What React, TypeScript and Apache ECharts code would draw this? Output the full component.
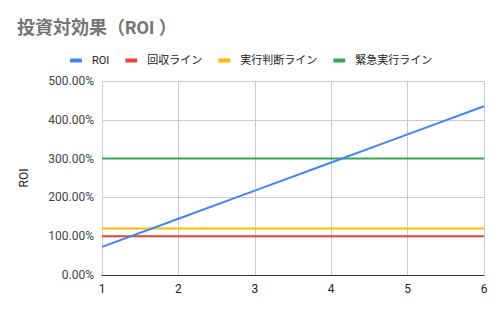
import React, { useEffect, useRef } from "react";
import * as echarts from "echarts";

const xCategories = [1, 2, 3, 4, 5, 6];
const roiValues = [72.5, 145, 217.5, 290, 362.5, 435];
const recoveryLine = [100, 100, 100, 100, 100, 100];
const decisionLine = [120, 120, 120, 120, 120, 120];
const urgentLine = [300, 300, 300, 300, 300, 300];
const seriesNames = ["ROI", "回収ライン", "実行判断ライン", "緊急実行ライン"];
const colors = ["#4285f4", "#ea4335", "#fbbc04", "#34a853"];

export default function App() {
  const ref = useRef<HTMLDivElement>(null);
  useEffect(() => {
    if (!ref.current) return;
    const chart = echarts.init(ref.current, undefined, { renderer: "svg" });
    const dataSets = [roiValues, recoveryLine, decisionLine, urgentLine];
    chart.setOption({
      animation: false,
      textStyle: { fontFamily: "Roboto, 'Noto Sans CJK JP', sans-serif" },
      title: {
        text: "投資対効果（ROI ）",
        left: 12,
        top: 13,
        textStyle: { color: "#757575", fontSize: 18, fontWeight: "bold", fontFamily: "Roboto, 'Noto Sans CJK JP', sans-serif" },
      },
      legend: {
        top: 50,
        left: 65,
        itemWidth: 12,
        itemHeight: 4,
        itemGap: 16,
        icon: "roundRect",
        textStyle: { color: "#222", fontSize: 11, padding: [0, 0, 0, 5] },
        data: seriesNames,
      },
      grid: { left: 102, right: 16, top: 81, bottom: 36 },
      xAxis: {
        type: "value",
        min: 1,
        max: 6,
        interval: 1,
        axisLine: { show: true, lineStyle: { color: "#333" } },
        axisTick: { show: false },
        axisLabel: { color: "#222", fontSize: 12, margin: 8 },
        splitLine: { show: true, lineStyle: { color: "#ccc" } },
      },
      yAxis: {
        type: "value",
        min: 0,
        max: 500,
        interval: 100,
        name: "ROI",
        nameLocation: "middle",
        nameGap: 72,
        nameTextStyle: { color: "#222", fontSize: 12 },
        axisLine: { show: false },
        axisTick: { show: false },
        axisLabel: { color: "#444", fontSize: 12, formatter: (v: number) => v.toFixed(2) + "%" },
        splitLine: { show: true, lineStyle: { color: "#ccc" } },
      },
      series: seriesNames.map((name, i) => ({
        name,
        type: "line",
        data: xCategories.map((x, j) => [x, dataSets[i][j]]),
        showSymbol: false,
        symbol: "none",
        lineStyle: { color: colors[i], width: 2 },
        itemStyle: { color: colors[i] },
        z: i === 0 ? 5 : 3,
      })),
    });
    return () => chart.dispose();
  }, []);
  return <div ref={ref} style={{ width: 500, height: 311, position: "absolute", left: 0, top: 0 }} />;
}
